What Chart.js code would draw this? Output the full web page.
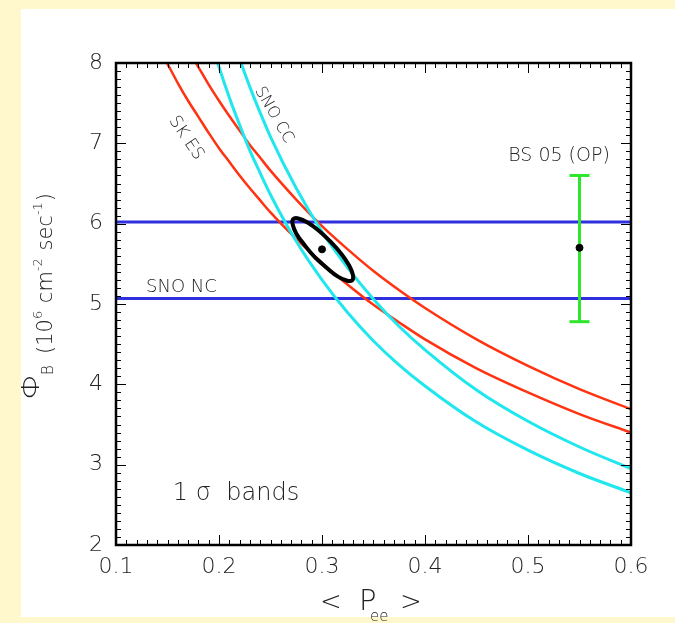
<!DOCTYPE html>
<html lang="en">
<head>
<meta charset="UTF-8">
<title>Boron-8 flux vs Pee</title>
<script src="https://cdn.jsdelivr.net/npm/chart.js"></script>
<style>
    html, body { margin: 0; padding: 0; background: #fff8cc; }
    canvas { display: block; }
</style>
</head>
<body>
<canvas id="flux-chart" width="675" height="623"></canvas>
<script>
// values
const pGrid      = [0.14, 0.15, 0.16, 0.17, 0.18, 0.19, 0.2, 0.21, 0.22, 0.23, 0.24, 0.25, 0.275, 0.3, 0.325, 0.35, 0.375, 0.4, 0.45, 0.5, 0.55, 0.6];
const skEsLow    = [8.23, 7.99, 7.75, 7.53, 7.33, 7.13, 6.94, 6.77, 6.60, 6.44, 6.29, 6.14, 5.81, 5.51, 5.24, 4.99, 4.77, 4.56, 4.20, 3.90, 3.63, 3.40];
const skEsHigh   = [null, null, null, 8.17, 7.95, 7.73, 7.53, 7.34, 7.16, 6.98, 6.82, 6.66, 6.30, 5.97, 5.68, 5.41, 5.17, 4.95, 4.56, 4.23, 3.94, 3.69];
const snoCcLow   = [null, null, null, null, null, 8.37, 7.95, 7.57, 7.23, 6.91, 6.63, 6.36, 5.78, 5.30, 4.89, 4.54, 4.24, 3.98, 3.53, 3.18, 2.89, 2.65];
const snoCcHigh  = [null, null, null, null, null, null, null, 8.43, 8.05, 7.70, 7.38, 7.08, 6.44, 5.90, 5.45, 5.06, 4.72, 4.43, 3.93, 3.54, 3.22, 2.95];

const snoNcPhi   = [6.02, 5.07];
const pRange     = [0.1, 0.6];

const bsP        = 0.55;
const bsPhi      = 5.70;
const bsErr      = [4.78, 6.60];

const fitP       = 0.30;
const fitPhi     = 5.68;
// contour, traced round once; the first two points are repeated at the end so the loop closes smoothly
const ellipseP   = [0.305, 0.293, 0.283, 0.275, 0.2715, 0.272, 0.277, 0.286, 0.297, 0.3085, 0.319, 0.3265, 0.330, 0.3295, 0.3245, 0.3155, 0.305, 0.293];
const ellipsePhi = [5.445, 5.583, 5.735, 5.879, 5.993, 6.057, 6.065, 6.014, 5.912, 5.772, 5.620, 5.476, 5.362, 5.298, 5.290, 5.341, 5.445, 5.583];

const xTicks = [0.1, 0.2, 0.3, 0.4, 0.5, 0.6];
const xTickLabels = ['0.1', '0.2', '0.3', '0.4', '0.5', '0.6'];
const yTicks = [2, 3, 4, 5, 6, 7, 8];
const yTickLabels = ['2', '3', '4', '5', '6', '7', '8'];

const FONT = "'DejaVu Sans', 'Liberation Sans', sans-serif";
const TXT = '#222222';

function curve(ys) {
    return pGrid.map((p, i) => ({ x: p, y: ys[i] }));
}

function lineSet(data, color, width) {
    return {
        data: data,
        showLine: true,
        borderColor: color,
        borderWidth: width,
        pointRadius: 0,
        fill: false,
        cubicInterpolationMode: 'monotone'
    };
}

const framePlugin = {
    id: 'frame',
    beforeDraw(chart) {
        const ctx = chart.ctx;
        ctx.save();
        ctx.fillStyle = '#fff8cc';
        ctx.fillRect(0, 0, chart.width, chart.height);
        ctx.fillStyle = '#ffffff';
        ctx.fillRect(21, 9, chart.width - 21, 608);
        ctx.restore();
    },
    afterDatasetsDraw(chart) {
        const ctx = chart.ctx;
        const a = chart.chartArea;
        const xs = chart.scales.x, ys = chart.scales.y;
        ctx.save();
        ctx.strokeStyle = '#000';
        ctx.lineWidth = 1;
        ctx.beginPath();
        for (let i = 0; i <= 50; i++) {
            const v = 0.1 + i * 0.01;
            const px = Math.round(xs.getPixelForValue(v)) + 0.5;
            const len = (i % 10 === 0) ? 10 : 5;
            ctx.moveTo(px, a.bottom); ctx.lineTo(px, a.bottom - len);
            ctx.moveTo(px, a.top); ctx.lineTo(px, a.top + len);
        }
        for (let i = 0; i <= 60; i++) {
            const v = 2 + i * 0.1;
            const py = Math.round(ys.getPixelForValue(v)) + 0.5;
            const len = (i % 10 === 0) ? 10 : 5;
            ctx.moveTo(a.left, py); ctx.lineTo(a.left + len, py);
            ctx.moveTo(a.right, py); ctx.lineTo(a.right - len, py);
        }
        ctx.stroke();
        ctx.lineWidth = 2.5;
        ctx.strokeRect(a.left, a.top, a.right - a.left, a.bottom - a.top);
        ctx.restore();
    },
    afterDraw(chart) {
        const ctx = chart.ctx;
        const xs = chart.scales.x, ys = chart.scales.y;
        ctx.save();
        ctx.fillStyle = TXT;

        // tick labels
        ctx.font = '200 22px ' + FONT;
        ctx.textAlign = 'center';
        ctx.textBaseline = 'alphabetic';
        xTicks.forEach((v, i) => ctx.fillText(xTickLabels[i], xs.getPixelForValue(v), 573));
        ctx.textAlign = 'right';
        ctx.textBaseline = 'middle';
        yTicks.forEach((v, i) => ctx.fillText(yTickLabels[i], 103, ys.getPixelForValue(v)));

        // x title  < P_ee >
        ctx.textAlign = 'left';
        ctx.textBaseline = 'alphabetic';
        ctx.font = '200 26px ' + FONT;
        ctx.fillText('<', 320, 610);
        ctx.fillText('>', 400, 610);
        ctx.font = '200 29px ' + FONT;
        ctx.fillText('P', 359, 610);
        ctx.font = '200 15px ' + FONT;
        ctx.fillText('ee', 370, 621);

        // y title  Φ_B (10^6 cm^-2 sec^-1)
        ctx.save();
        ctx.translate(52, 400);
        ctx.rotate(-Math.PI / 2);
        ctx.save();
        ctx.scale(1.35, 1);
        ctx.font = '200 24px ' + FONT;
        ctx.fillText('\u03A6', 0, -13);
        ctx.restore();
        ctx.font = '200 15px ' + FONT;
        ctx.fillText('B', 25, 1);
        let cx = 46;
        const parts = [
            ['(10', 0, 21], ['6', -10, 13], [' cm', 0, 21], ['-2', -10, 13],
            [' sec', 0, 21], ['-1', -10, 13], [')', 0, 21]
        ];
        parts.forEach(([t, dy, sz]) => {
            ctx.font = '200 ' + sz + 'px ' + FONT;
            ctx.fillText(t, cx, dy);
            cx += ctx.measureText(t).width + (sz < 20 ? 1 : 0);
        });
        ctx.restore();

        // in-plot labels
        ctx.textAlign = 'left';
        ctx.font = '200 18px ' + FONT;
        ctx.fillText('SNO NC', 146, 292);
        ctx.textAlign = 'center';
        ctx.font = '200 19px ' + FONT;
        ctx.fillText('BS 05 (OP)', 559, 161);
        ctx.font = '200 24px ' + FONT;
        ctx.fillText('1 \u03C3  bands', 236, 500);

        ctx.textBaseline = 'middle';
        ctx.font = '200 17px ' + FONT;
        ctx.save();
        ctx.translate(186, 138);
        ctx.rotate(56 * Math.PI / 180);
        ctx.fillText('SK ES', 0, 0);
        ctx.restore();
        ctx.save();
        ctx.translate(274, 115);
        ctx.rotate(60 * Math.PI / 180);
        ctx.font = '200 16px ' + FONT;
        ctx.fillText('SNO CC', 0, 0);
        ctx.restore();

        ctx.restore();
    }
};

const ctx = document.getElementById('flux-chart').getContext('2d');
new Chart(ctx, {
    type: 'scatter',
    data: {
        datasets: [
            // central fit point and contour
            { data: [{ x: fitP, y: fitPhi }], pointRadius: 3.5, pointBackgroundColor: '#000', pointBorderColor: '#000', showLine: false },
            {
                data: ellipseP.map((p, i) => ({ x: p, y: ellipsePhi[i] })),
                showLine: true, borderColor: '#000', borderWidth: 4, pointRadius: 0, tension: 0.4, fill: false
            },
            // BS05 prediction
            { data: [{ x: bsP, y: bsPhi }], pointRadius: 3.5, pointBackgroundColor: '#000', pointBorderColor: '#000', showLine: false },
            {
                data: [{ x: bsP, y: bsErr[0] }, { x: bsP, y: bsErr[1] }],
                showLine: true, borderColor: '#2ee62e', borderWidth: 3,
                pointStyle: 'line', pointRadius: 10, pointBorderWidth: 3, pointBorderColor: '#2ee62e'
            },
            lineSet(curve(snoCcLow), '#20e6ee', 3),
            lineSet(curve(snoCcHigh), '#20e6ee', 3),
            lineSet(curve(skEsLow), '#ff3311', 2.5),
            lineSet(curve(skEsHigh), '#ff3311', 2.5),
            lineSet(pRange.map(p => ({ x: p, y: snoNcPhi[0] })), '#2f2fdd', 3),
            lineSet(pRange.map(p => ({ x: p, y: snoNcPhi[1] })), '#2f2fdd', 3)
        ]
    },
    options: {
        responsive: false,
        animation: false,
        layout: { padding: { left: 116, right: 44, top: 63, bottom: 78 } },
        plugins: { legend: { display: false }, tooltip: { enabled: false } },
        scales: {
            x: { type: 'linear', min: 0.1, max: 0.6, display: false },
            y: { type: 'linear', min: 2, max: 8, display: false }
        }
    },
    plugins: [framePlugin]
});
</script>
</body>
</html>
